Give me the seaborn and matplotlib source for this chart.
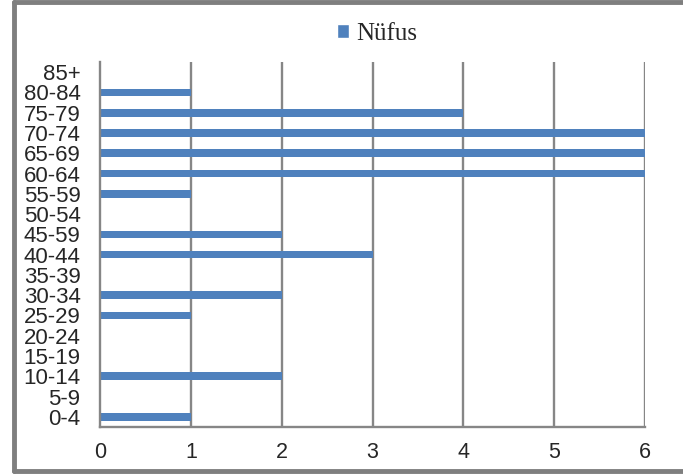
import matplotlib
matplotlib.use("Agg")
import matplotlib.pyplot as plt
import seaborn as sns
import pandas as pd
from matplotlib.patches import Patch
from matplotlib.lines import Line2D
from matplotlib.ticker import FixedLocator

categories = ["0-4", "5-9", "10-14", "15-19", "20-24", "25-29", "30-34", "35-39",
              "40-44", "45-59", "50-54", "55-59", "60-64", "65-69", "70-74",
              "75-79", "80-84", "85+"]
values = [1, 0, 2, 0, 0, 1, 2, 0, 3, 2, 0, 1, 6, 6, 6, 4, 1, 0]
series_name = "Nüfus"

df = pd.DataFrame({"cat": categories, "val": values, "series": series_name})

sns.set_style("white")
plt.rcParams["font.family"] = ["Liberation Sans", "DejaVu Sans"]

fig = plt.figure(figsize=(6.83, 4.75), dpi=100)
ax = fig.add_axes([100/683, 1-427/475, 545/683, (427-62)/475])

order = categories[::-1]
sns.barplot(data=df, y="cat", x="val", hue="series", order=order, orient="h",
            palette=["#4f81bd"], width=0.38, ax=ax, saturation=1, legend=False,
            edgecolor="none", linewidth=0)

ax.set_xlim(0, 6)
ax.set_ylim(len(categories) - 0.5, -0.5)
ax.set_xticks(range(0, 7))
ax.set_xlabel("")
ax.set_ylabel("")

gray = "#868686"
ax.grid(False)
for xv in range(1, 7):
    ax.axvline(xv, color=gray, lw=1.7, zorder=0)

for s in ["top", "right"]:
    ax.spines[s].set_visible(False)
for s in ["left", "bottom"]:
    ax.spines[s].set_color(gray)
    ax.spines[s].set_linewidth(1.7)

ax.tick_params(axis="y", which="major", length=0, labelsize=16, pad=14)
ax.yaxis.set_minor_locator(FixedLocator([i - 0.5 for i in range(len(categories) + 1)]))
ax.tick_params(axis="y", which="minor", length=5, width=1.7, color=gray, direction="out")
ax.tick_params(axis="x", which="major", length=5, width=1.7, color=gray, direction="out",
               labelsize=15.5, pad=6)

leg = fig.legend(handles=[Patch(facecolor="#4f81bd", label=series_name)],
                 loc="center", bbox_to_anchor=(377/683, 1-34/475), frameon=False,
                 prop={"family": "Liberation Serif", "size": 18},
                 handlelength=0.48, handleheight=0.48, handletextpad=0.28)

frame_kw = dict(transform=fig.transFigure, color="#7f7f7f", linewidth=3.5)
fig.add_artist(Line2D([13.5/683, 13.5/683], [1-2/475, 1-471/475], **frame_kw))
fig.add_artist(Line2D([13.5/683, 1.0], [1-2/475, 1-2/475], **frame_kw))
fig.add_artist(Line2D([13.5/683, 1.0], [1-471/475, 1-471/475], **frame_kw))

fig.savefig("out.png", dpi=100)
